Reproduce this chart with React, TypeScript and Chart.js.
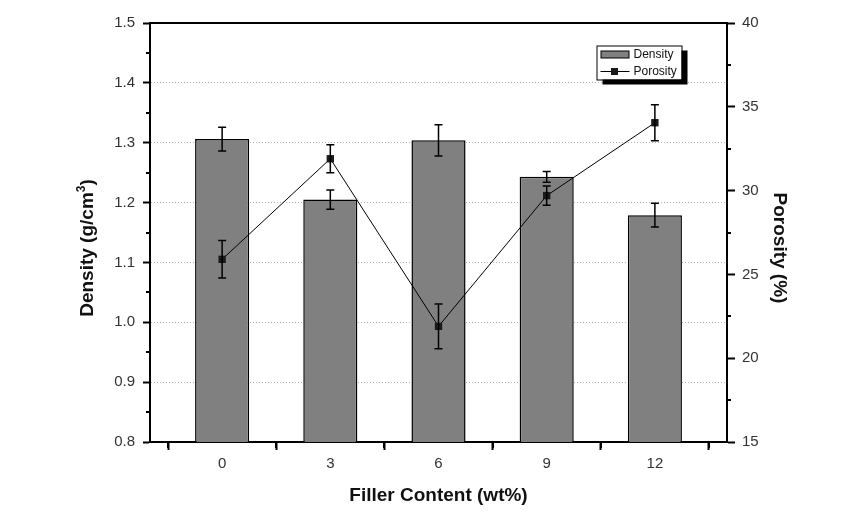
import React, { useEffect, useRef } from 'react';
import { Chart, registerables } from 'chart.js';

Chart.register(...registerables);

const FONT = '"Liberation Sans", Arial, Helvetica, sans-serif';

// ---- data ----
const fillerContent = [0, 3, 6, 9, 12];
const densityValues = [1.306, 1.205, 1.304, 1.243, 1.179];
const densityErrors = [0.02, 0.016, 0.026, 0.009, 0.02];
const porosityValues = [25.9, 31.9, 21.9, 29.7, 34.05];
const porosityErrors = [1.12, 0.84, 1.34, 0.58, 1.07];

// ---- ticks ----
const xTicks = [0, 3, 6, 9, 12];
const xMinorTicks = [-1.5, 1.5, 4.5, 7.5, 10.5, 13.5];
const densityTicks = [0.8, 0.9, 1.0, 1.1, 1.2, 1.3, 1.4, 1.5];
const densityMinorTicks = [0.85, 0.95, 1.05, 1.15, 1.25, 1.35, 1.45];
const porosityTicks = [15, 20, 25, 30, 35, 40];
const porosityMinorTicks = [17.5, 22.5, 27.5, 32.5, 37.5];

const xTitle = 'Filler Content (wt%)';
const yTitleMain = 'Density (g/cm';
const yTitleSup = '3';
const yTitleEnd = ')';
const y1Title = 'Porosity (%)';
const densityLabel = 'Density';
const porosityLabel = 'Porosity';

const decorPlugin = {
  id: 'decor',
  afterDatasetsDraw(chart: any) {
    const { ctx, scales } = chart;
    const x = scales.x;
    const y = scales.y;
    const y1 = scales.y1;
    ctx.save();
    ctx.strokeStyle = '#000';
    ctx.lineWidth = 1.5;
    const drawErr = (xv: number, v: number, e: number, sc: any) => {
      const px = x.getPixelForValue(xv);
      const t = sc.getPixelForValue(v + e);
      const b = sc.getPixelForValue(v - e);
      ctx.beginPath();
      ctx.moveTo(px, t);
      ctx.lineTo(px, b);
      ctx.moveTo(px - 4, t);
      ctx.lineTo(px + 4, t);
      ctx.moveTo(px - 4, b);
      ctx.lineTo(px + 4, b);
      ctx.stroke();
    };
    fillerContent.forEach((xv, i) => drawErr(xv, densityValues[i], densityErrors[i], y));
    fillerContent.forEach((xv, i) => drawErr(xv, porosityValues[i], porosityErrors[i], y1));
    ctx.restore();
  },
  afterDraw(chart: any) {
    const { ctx, chartArea, scales } = chart;
    const { left, right, top, bottom } = chartArea;
    ctx.save();
    // top frame line
    ctx.strokeStyle = '#000';
    ctx.lineWidth = 2;
    ctx.beginPath();
    ctx.moveTo(left - 1, top);
    ctx.lineTo(right + 1, top);
    ctx.stroke();
    // minor ticks
    ctx.lineWidth = 2;
    ctx.beginPath();
    densityMinorTicks.forEach((v) => {
      const py = Math.round(scales.y.getPixelForValue(v));
      ctx.moveTo(left - 4, py);
      ctx.lineTo(left, py);
    });
    porosityMinorTicks.forEach((v) => {
      const py = Math.round(scales.y1.getPixelForValue(v));
      ctx.moveTo(right, py);
      ctx.lineTo(right + 4, py);
    });
    xMinorTicks.forEach((v) => {
      const px = Math.round(scales.x.getPixelForValue(v));
      ctx.moveTo(px, bottom);
      ctx.lineTo(px, bottom + 6);
    });
    ctx.stroke();

    // axis titles
    ctx.fillStyle = '#111';
    ctx.textBaseline = 'alphabetic';
    const big = `bold 19px ${FONT}`;
    const small = `bold 12px ${FONT}`;
    const midY = 248;
    // left title
    ctx.save();
    ctx.translate(86, midY);
    ctx.rotate(-Math.PI / 2);
    ctx.font = big;
    const w1 = ctx.measureText(yTitleMain).width;
    const w3 = ctx.measureText(yTitleEnd).width;
    ctx.font = small;
    const w2 = ctx.measureText(yTitleSup).width;
    let sx = -(w1 + w2 + w3) / 2;
    ctx.textAlign = 'left';
    ctx.font = big;
    ctx.fillText(yTitleMain, sx, 6.8);
    sx += w1;
    ctx.font = small;
    ctx.fillText(yTitleSup, sx, -1.5);
    sx += w2;
    ctx.font = big;
    ctx.fillText(yTitleEnd, sx, 6.8);
    ctx.restore();
    // right title
    ctx.save();
    ctx.translate(781, midY);
    ctx.rotate(Math.PI / 2);
    ctx.font = big;
    ctx.textAlign = 'center';
    ctx.fillText(y1Title, 0, 6.8);
    ctx.restore();
    // bottom title
    ctx.font = big;
    ctx.textAlign = 'center';
    ctx.fillText(xTitle, (left + right) / 2, 501);

    // legend
    const bx = right - 130.5;
    const by = top + 22.5;
    const bw = 85;
    const bh = 34;
    ctx.fillStyle = '#000';
    ctx.fillRect(bx + 6, by + 5, bw, bh);
    ctx.fillStyle = '#fff';
    ctx.fillRect(bx, by, bw, bh);
    ctx.strokeStyle = '#000';
    ctx.lineWidth = 1;
    ctx.strokeRect(bx + 0.5, by + 0.5, bw, bh);
    // density swatch
    ctx.fillStyle = '#808080';
    ctx.fillRect(bx + 4.5, by + 5.5, 28, 7);
    ctx.strokeRect(bx + 4.5, by + 5.5, 28, 7);
    // porosity line+marker
    ctx.beginPath();
    ctx.moveTo(bx + 4, by + 26);
    ctx.lineTo(bx + 33, by + 26);
    ctx.stroke();
    ctx.fillStyle = '#1a1a1a';
    ctx.fillRect(bx + 14.5, by + 22.5, 7, 7);
    ctx.fillStyle = '#111';
    ctx.font = `12px ${FONT}`;
    ctx.textAlign = 'left';
    ctx.textBaseline = 'middle';
    ctx.fillText(densityLabel, bx + 37, by + 9);
    ctx.fillText(porosityLabel, bx + 37, by + 26);
    ctx.restore();
  },
};

const nearly = (a: number, b: number) => Math.abs(a - b) < 1e-6;

export default function App() {
  const ref = useRef<HTMLCanvasElement>(null);
  useEffect(() => {
    document.body.style.margin = '0';
    const tickFont = { family: FONT, size: 15 };
    const chart = new Chart(ref.current as HTMLCanvasElement, {
      type: 'bar',
      data: {
        datasets: [
          {
            type: 'line',
            label: porosityLabel,
            data: fillerContent.map((x, i) => ({ x, y: porosityValues[i] })),
            xAxisID: 'x',
            yAxisID: 'y1',
            borderColor: '#000',
            borderWidth: 1,
            pointStyle: 'rect',
            pointRadius: 5.2,
            pointBackgroundColor: '#1a1a1a',
            pointBorderWidth: 0,
            tension: 0,
            fill: false,
            order: 0,
          } as any,
          {
            type: 'bar',
            label: densityLabel,
            data: fillerContent.map((x, i) => ({ x, y: densityValues[i] })),
            xAxisID: 'x',
            yAxisID: 'y',
            backgroundColor: '#808080',
            borderColor: '#000',
            borderWidth: 1.5,
            barPercentage: 0.5,
            categoryPercentage: 1,
            order: 1,
          } as any,
        ],
      },
      options: {
        responsive: false,
        animation: false,
        devicePixelRatio: window.devicePixelRatio || 1,
        layout: { padding: { top: 23, left: 0, right: 0, bottom: 0 } },
        plugins: {
          legend: { display: false },
          tooltip: { enabled: false },
        },
        scales: {
          x: {
            type: 'linear',
            position: 'bottom',
            min: -2,
            max: 14,
            offset: false,
            afterBuildTicks: (s: any) => {
              s.ticks = xTicks.map((v) => ({ value: v }));
            },
            afterFit: (s: any) => {
              s.height = 78;
            },
            ticks: {
              font: tickFont,
              color: '#333',
              padding: 5,
              maxRotation: 0,
              callback: (v: any) => String(v),
            },
            grid: {
              drawOnChartArea: false,
              drawTicks: true,
              tickLength: 8,
              tickWidth: 2,
              tickColor: '#000',
            },
            border: { display: true, color: '#000', width: 2 },
          },
          y: {
            type: 'linear',
            position: 'left',
            min: 0.8,
            max: 1.5,
            afterBuildTicks: (s: any) => {
              s.ticks = densityTicks.map((v) => ({ value: v }));
            },
            afterFit: (s: any) => {
              s.width = 150;
            },
            ticks: {
              font: tickFont,
              color: '#333',
              padding: 8,
              callback: (v: any) => Number(v).toFixed(1),
            },
            grid: {
              drawOnChartArea: true,
              color: (c: any) =>
                c.tick && (nearly(c.tick.value, 0.8) || nearly(c.tick.value, 1.5))
                  ? 'rgba(0,0,0,0)'
                  : '#b4b4b4',
              lineWidth: 1,
              tickLength: 7,
              tickWidth: 2,
              tickColor: '#000',
            },
            border: { display: true, color: '#000', width: 2, dash: [1, 2] },
          },
          y1: {
            type: 'linear',
            position: 'right',
            min: 15,
            max: 40,
            afterBuildTicks: (s: any) => {
              s.ticks = porosityTicks.map((v) => ({ value: v }));
            },
            afterFit: (s: any) => {
              s.width = 117;
            },
            ticks: {
              font: tickFont,
              color: '#333',
              padding: 7,
              callback: (v: any) => String(v),
            },
            grid: {
              drawOnChartArea: false,
              tickLength: 8,
              tickWidth: 2,
              tickColor: '#000',
            },
            border: { display: true, color: '#000', width: 2 },
          },
        },
      } as any,
      plugins: [decorPlugin],
    });
    return () => chart.destroy();
  }, []);
  return (
    <div style={{ position: 'relative', width: 844, height: 520 }}>
      <canvas ref={ref} width={844} height={520} style={{ display: 'block', width: 844, height: 520 }} />
    </div>
  );
}
